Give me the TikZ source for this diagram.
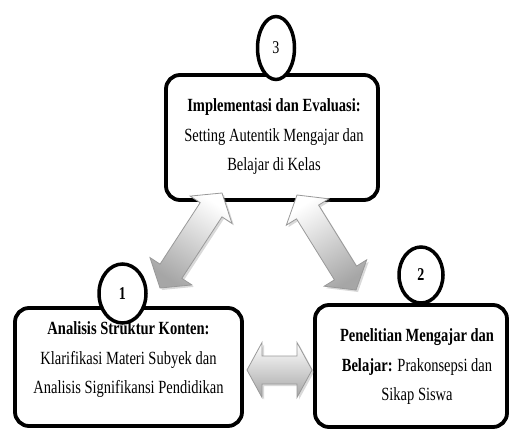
\documentclass[tikz,border=0pt]{standalone}
\usepackage{fontspec}
\setmainfont{Liberation Serif}
\newfontfamily\tnr[FakeStretch=0.78]{Liberation Serif}
\usetikzlibrary{shapes.geometric,calc,shadows}
\newcommand\dblarrow[6]{%
  \path[bigarrow, top color=white, bottom color=gray!70, shading angle=#6]
    (#1) -- ($(#1)!#3!(#2)!#4!90:(#2)$) -- ($(#1)!#3!(#2)!#5!90:(#2)$)
    -- ($(#2)!#3!(#1)!#5!-90:(#1)$) -- ($(#2)!#3!(#1)!#4!-90:(#1)$)
    -- (#2) -- ($(#2)!#3!(#1)!#4!90:(#1)$) -- ($(#2)!#3!(#1)!#5!90:(#1)$)
    -- ($(#1)!#3!(#2)!#5!-90:(#2)$) -- ($(#1)!#3!(#2)!#4!-90:(#2)$) -- cycle;}
\begin{document}
\begin{tikzpicture}[x=1pt,y=-1pt,
  box/.style={draw=black, line width=3.8pt, rounded corners=14pt, fill=white, inner sep=0pt},
  numcirc/.style={ellipse, draw=black, line width=3.5pt, fill=white, inner sep=0pt,
    font=\tnr\fontsize{18}{20}\selectfont},
  txt/.style={align=center, font=\tnr\fontsize{18.6}{29.5}\selectfont, inner sep=0pt},
  bigarrow/.style={draw=gray!80, line width=0.8pt,
    drop shadow={opacity=0.3, shadow xshift=2pt, shadow yshift=-2pt}}
]
\useasboundingbox (0,0) rectangle (510,430);

% boxes
\node[box, minimum width=212pt, minimum height=125pt] (b3) at (272,137.5) {};
\node[box, minimum width=227pt, minimum height=118pt] (b1) at (128.5,367) {};
\node[box, minimum width=192pt, minimum height=122pt] (b2) at (411,366) {};

% texts
\node[txt] (t3) at (274,137) {{\bfseries Implementasi dan Evaluasi:}\\Setting Autentik Mengajar dan\\Belajar di Kelas};
\node[txt] (t1) at (128.5,360) {{\bfseries Analisis Struktur Konten:}\\Klarifikasi Materi Subyek dan\\Analisis Signifikansi Pendidikan};
\node[txt] (t2) at (417,367) {{\bfseries Penelitian Mengajar dan}\\{\bfseries Belajar:} Prakonsepsi dan\\Sikap Siswa};

% number ellipses
\node[numcirc, minimum width=37pt, minimum height=63pt] (c3) at (276,48) {3};
\node[numcirc, minimum width=47pt, minimum height=59pt] (c1) at (122.5,293.5) {\bfseries 1};
\node[numcirc, minimum width=44pt, minimum height=56pt] (c2) at (421,275) {\bfseries 2};

% arrows
\coordinate (a1s) at (160,288);
\coordinate (a1e) at (222,193);
\coordinate (a2s) at (297,195);
\coordinate (a2e) at (356,290);
\coordinate (a3s) at (247,370);
\coordinate (a3e) at (312,370);
\dblarrow{a1s}{a1e}{20pt}{25pt}{13pt}{-33}
\dblarrow{a2s}{a2e}{20pt}{25pt}{13pt}{32}
\dblarrow{a3s}{a3e}{15pt}{27.5pt}{14pt}{0}
\end{tikzpicture}
\end{document}
